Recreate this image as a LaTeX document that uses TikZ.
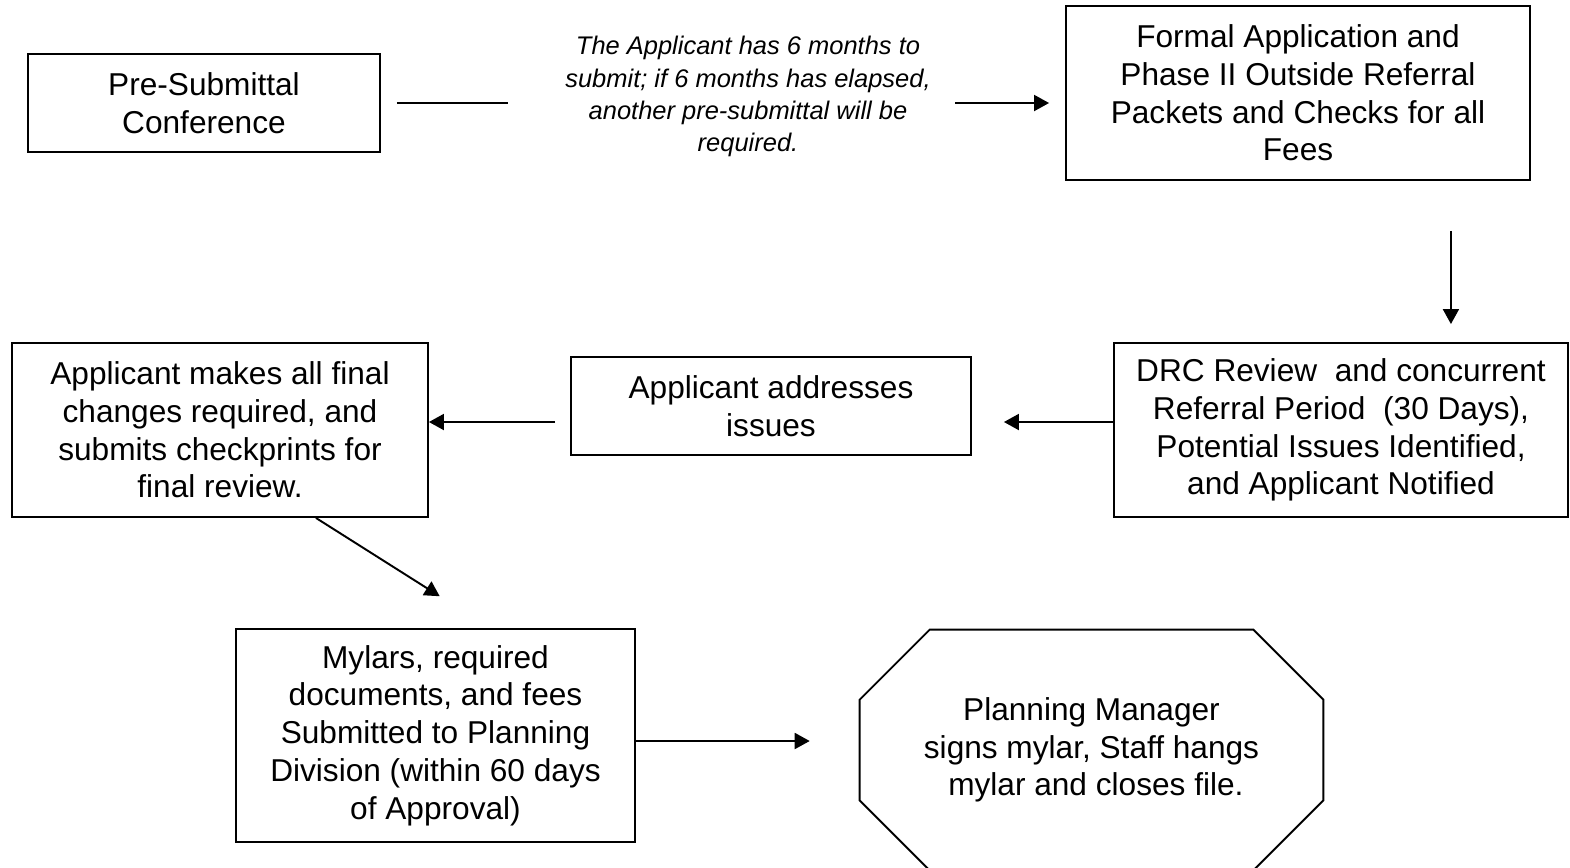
\documentclass[tikz,border=0pt]{standalone}
\usepackage{fontspec}
\setmainfont{Liberation Sans}
\usepackage{tikz}
\usetikzlibrary{
  arrows.meta,
  calc
}

\begin{document}
\begin{tikzpicture}[
  x=0.02cm, y=-0.02cm,
  every node/.style={font=\fontsize{18}{21.5}\selectfont},
  blk/.style={draw, line width=1.1pt, align=center, inner sep=0pt},
  nte/.style={align=center, inner sep=0pt, font=\fontsize{14.5}{18.3}\selectfont\itshape},
  ln/.style={line width=1.1pt},
  ar/.style={ln, -{Triangle[length=0.3cm, width=0.32cm]}}
]
  \useasboundingbox (0,0) rectangle (1570,867);

  % top row
  \node[blk, minimum width=7.04cm, minimum height=1.96cm] (pre) at (204,103) {Pre-Submittal\\Conference};
  \node[nte, minimum width=8.94cm] (note) at (748,96.5) {The Applicant has 6 months to\\submit; if 6 months has elapsed,\\another pre-submittal will be\\required.};
  \node[blk, minimum width=9.28cm, minimum height=3.48cm] (formal) at (1298,93) {Formal Application and\\Phase II Outside Referral\\Packets and Checks for all\\Fees};

  \draw[ln, shorten <=0.32cm] (pre.east) -- ([xshift=-0.33cm]note.west |- pre.east);
  \draw[ar, shorten >=0.32cm] ([xshift=-0.33cm]note.east |- pre.east) -- (formal.west |- pre.east);

  % middle row
  \node[blk, minimum width=9.08cm, minimum height=3.48cm] (drc) at (1341,430) {DRC Review\ \ and concurrent\\Referral Period\ \ (30 Days),\\Potential Issues Identified,\\and Applicant Notified};
  \node[blk, minimum width=8cm, minimum height=1.96cm] (addr) at (771,406) {Applicant addresses\\issues};
  \node[blk, minimum width=8.32cm, minimum height=3.48cm] (final) at (220,430) {Applicant makes all final\\changes required, and\\submits checkprints for\\final review.};

  \draw[ar, shorten <=1cm, shorten >=0.36cm] ([xshift=-1.6cm]formal.south east) -- ([xshift=-1.6cm]formal.south east |- drc.north);
  \draw[ar, shorten >=0.64cm] ([yshift=-0.32cm]addr.east -| drc.west) -- ([yshift=-0.32cm]addr.east);
  \draw[ar, shorten <=0.3cm] ([yshift=-0.32cm]addr.west) -- ([yshift=-0.32cm]addr.west -| final.east);

  % bottom row
  \node[blk, minimum width=7.98cm, minimum height=4.26cm] (mylar) at (435.5,735.5) {Mylars, required\\documents, and fees\\Submitted to Planning\\Division (within 60 days\\of Approval)};
  \node[align=center, inner sep=0pt, minimum width=9.26cm, minimum height=4.8cm] (oct) at (1091.5,750) {Planning Manager\\signs mylar, Staff hangs\\\ mylar and closes file.};
  \draw[ln] ([xshift=1.4cm]oct.north west) -- ([xshift=-1.4cm]oct.north east)
    -- ([yshift=-1.4cm]oct.north east) -- ([yshift=1.4cm]oct.south east)
    -- ([xshift=-1.4cm]oct.south east) -- ([xshift=1.4cm]oct.south west)
    -- ([yshift=1.4cm]oct.south west) -- ([yshift=-1.4cm]oct.north west) -- cycle;

  \draw[ar, shorten >=1.19cm] ([xshift=1.92cm]final.south) -- ([xshift=1.09cm]mylar.north);
  \draw[ar, shorten >=1cm] ([yshift=-0.11cm]mylar.east) -- ([yshift=-0.11cm]mylar.east -| oct.west);

\end{tikzpicture}
\end{document}
